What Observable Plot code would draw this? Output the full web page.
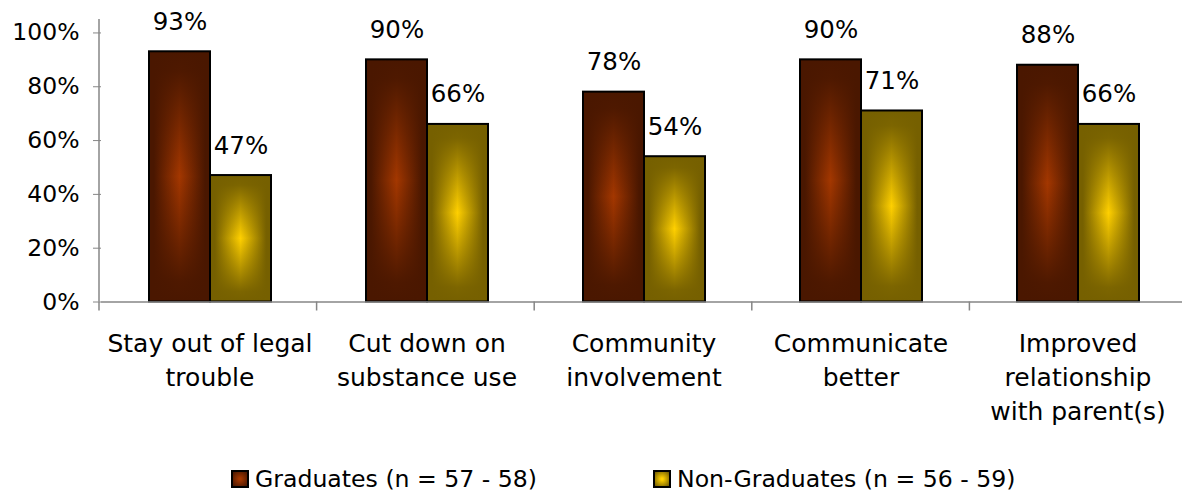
<!DOCTYPE html>
<html>
<head>
<meta charset="utf-8">
<script src="https://cdn.jsdelivr.net/npm/d3@7"></script>
<script src="https://cdn.jsdelivr.net/npm/@observablehq/plot@0.6"></script>
<style>
  body { margin: 0; background: #fff; font-family: "DejaVu Sans", sans-serif; }
  #wrap { position: relative; width: 1182px; height: 493px; overflow: hidden; }
  #legend { position: absolute; left: 0; top: 465px; width: 1182px; height: 28px; font-size: 23.6px; color: #000; }
  .item { position: absolute; top: 0; display: flex; align-items: center; white-space: nowrap; }
  .sw { width: 14px; height: 14px; border: 2px solid #000; margin-right: 6px; }
</style>
</head>
<body>
<div id="wrap"><div id="chart"></div><div id="legend"></div></div>
<script>
const categories = [
  "Stay out of legal\ntrouble",
  "Cut down on\nsubstance use",
  "Community\ninvolvement",
  "Communicate\nbetter",
  "Improved\nrelationship\nwith parent(s)"
];
const seriesNames = ["Graduates", "Non-Graduates"];
const legendLabels = ["Graduates (n = 57 - 58)", "Non-Graduates (n = 56 - 59)"];
const graduates = [93, 90, 78, 90, 88];
const nonGraduates = [47, 66, 54, 71, 66];
const yTicks = [0, 20, 40, 60, 80, 100];
const yMax = 105;

const rows = categories.flatMap((c, i) => [
  {category: c, series: seriesNames[0], value: graduates[i]},
  {category: c, series: seriesNames[1], value: nonGraduates[i]}
]);
const gradRows = rows.filter(d => d.series === seriesNames[0]);
const nonRows = rows.filter(d => d.series === seriesNames[1]);

const AXIS = "#868686";
const FONT = "DejaVu Sans";

const chart = Plot.plot({
  width: 1182,
  height: 445,
  marginLeft: 99,
  marginRight: -5,
  marginTop: 19,
  marginBottom: 143.5,
  style: {fontFamily: FONT, fontSize: "23px", color: "#000", background: "#fff", overflow: "visible"},
  fx: {domain: categories, padding: 0, axis: null, label: null},
  x: {domain: seriesNames, paddingInner: 0, paddingOuter: 0.758, axis: null},
  y: {domain: [0, yMax], axis: null},
  marks: [
    Plot.axisY({ticks: yTicks, tickFormat: d => d + "%", tickSize: 8, tickPadding: 14,
      stroke: AXIS, fill: "#000", fontSize: 23.5, label: null}),
    Plot.barY(gradRows, {fx: "category", x: "series", y: "value", fill: "url(#hRed)"}),
    Plot.barY(nonRows, {fx: "category", x: "series", y: "value", fill: "url(#hYel)"}),
    Plot.barY(gradRows, {fx: "category", x: "series", y: "value", fill: "url(#vRed)", stroke: "#000", strokeWidth: 2}),
    Plot.barY(nonRows, {fx: "category", x: "series", y: "value", fill: "url(#vYel)", stroke: "#000", strokeWidth: 2}),
    Plot.ruleY([0], {stroke: AXIS, strokeWidth: 1.5}),
    Plot.text(rows, {fx: "category", x: "series", y: "value", text: d => d.value + "%",
      dy: -22, lineAnchor: "bottom", fontSize: 24.5, fill: "#000"}),
    Plot.text(categories, {fx: d => d, text: d => d, frameAnchor: "bottom", lineAnchor: "top",
      dy: 25.5, lineHeight: 1.36, fontSize: 25, fill: "#000"})
  ]
});
document.getElementById("chart").append(chart);

const svg = d3.select(chart);
const defs = svg.insert("defs", ":first-child");
function hGrad(id, edge, mid) {
  const g = defs.append("linearGradient").attr("id", id).attr("x1", 0).attr("y1", 0).attr("x2", 1).attr("y2", 0);
  [[0, edge], [0.08, edge], [0.5, mid], [0.92, edge], [1, edge]].forEach(([o, c]) =>
    g.append("stop").attr("offset", o).attr("stop-color", c));
}
function vGrad(id, edge) {
  const g = defs.append("linearGradient").attr("id", id).attr("x1", 0).attr("y1", 0).attr("x2", 0).attr("y2", 1);
  [[0, 1], [0.08, 0.95], [0.5, 0], [0.92, 0.95], [1, 1]].forEach(([o, a]) =>
    g.append("stop").attr("offset", o).attr("stop-color", edge).attr("stop-opacity", a));
}
hGrad("hRed", "#4a1700", "#a33700");
hGrad("hYel", "#766000", "#ffd000");
vGrad("vRed", "#4a1700");
vGrad("vYel", "#766000");

// category separators and y-axis line drawn from Plot's own scales
const fxs = chart.scale("fx");
const ys = chart.scale("y");
const band = d3.scaleBand(fxs.domain, fxs.range);
const y0 = ys.range[0], yTop = ys.range[1];
const bounds = categories.map(c => band(c)).concat([band(categories[categories.length - 1]) + band.bandwidth()]);
const g = svg.append("g").attr("stroke", AXIS).attr("stroke-width", 1.5);
g.selectAll("line.sep").data(bounds).join("line")
  .attr("x1", d => d).attr("x2", d => d).attr("y1", y0).attr("y2", y0 + 9);
g.append("line").attr("x1", fxs.range[0]).attr("x2", fxs.range[0]).attr("y1", yTop).attr("y2", y0);

// legend
const legend = d3.select("#legend");
const swatches = [
  "radial-gradient(circle, #a33700 10%, #4a1700 95%)",
  "radial-gradient(circle, #ffd000 10%, #766000 95%)"
];
const lefts = [231, 653];
legendLabels.forEach((t, i) => {
  const it = legend.append("div").attr("class", "item").style("left", lefts[i] + "px");
  it.append("div").attr("class", "sw").style("background", swatches[i]);
  it.append("span").text(t);
});
</script>
</body>
</html>
